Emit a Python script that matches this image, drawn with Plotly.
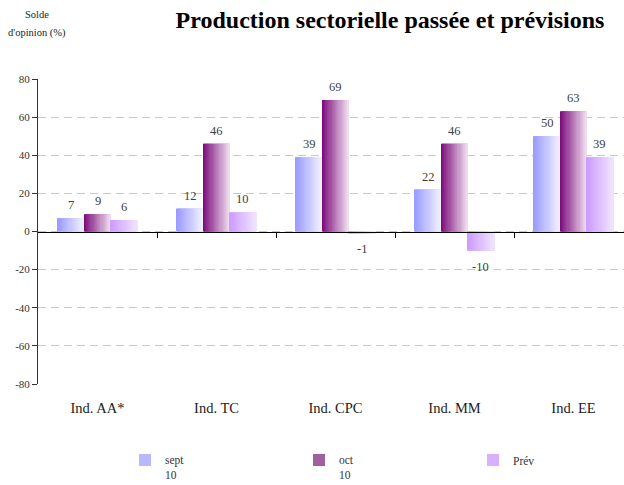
import plotly.graph_objects as go

categories = ["Ind. AA*", "Ind. TC", "Ind. CPC", "Ind. MM", "Ind. EE"]
series_names = ["sept<br>10", "oct<br>10", "Prév"]
sept_values = [7, 12, 39, 22, 50]
oct_values = [9, 46, 69, 46, 63]
prev_values = [6, 10, -1, -10, 39]
y_ticks = [-80, -60, -40, -20, 0, 20, 40, 60, 80]
y_tick_labels = ["-80", "-60", "-40", "-20", "0", "20", "40", "60", "80"]

series = [sept_values, oct_values, prev_values]
grads = [((0x99, 0x99, 0xff), (0xf2, 0xf2, 0xff)),
         ((0x7a, 0x08, 0x7a), (0xf0, 0xe0, 0xf0)),
         ((0xcc, 0x99, 0xff), (0xf0, 0xe4, 0xff))]
legend_cols = ["#b8b8ff", "#a060a0", "#d8b0ff"]

FONT = "Liberation Serif"
W = 1 / 4.5
K = 24
starts = [-1.5 * W, -0.5 * W, 0.5 * W]

PL, PR, PT, PB = 38, 624, 79, 384
def px_x(px):
    return (px - PL) / (PR - PL)
def px_y(py):
    return (PB - py) / (PB - PT)

fig = go.Figure()

def mix(c1, c2, t):
    return "rgb(%d,%d,%d)" % tuple(round(a + (b - a) * t) for a, b in zip(c1, c2))

for s, (vals, name) in enumerate(zip(series, series_names)):
    fig.add_trace(go.Bar(x=categories, y=vals, name=name, width=W, offset=starts[s],
                         marker=dict(color=legend_cols[s], line=dict(width=0)),
                         hoverinfo="skip"))
    sw = W / K
    for i in range(K):
        c = mix(grads[s][0], grads[s][1], (i + 0.5) / K)
        fig.add_trace(go.Bar(x=categories, y=vals, width=sw * (1.8 if i < K - 1 else 1.0),
                             offset=starts[s] + i * sw, showlegend=False,
                             marker=dict(color=c, line=dict(width=0)), hoverinfo="skip"))

annotations = []
bar_px = 26.4
for s, vals in enumerate(series):
    for cat, v in zip(categories, vals):
        annotations.append(dict(x=cat, y=v, xref="x", yref="y", text=str(v), showarrow=False,
                                xshift=(s - 1) * bar_px, yshift=13 if v >= 0 else -16,
                                yanchor="middle", font=dict(family=FONT, size=12.5, color="#404040")))

annotations.append(dict(text="Solde", x=px_x(37), y=px_y(14), xref="paper", yref="paper",
                        showarrow=False, xanchor="center", yanchor="middle",
                        font=dict(family=FONT, size=10.5, color="#222222")))
annotations.append(dict(text="d'opinion (%)", x=px_x(37), y=px_y(33), xref="paper", yref="paper",
                        showarrow=False, xanchor="center", yanchor="middle",
                        font=dict(family=FONT, size=10.5, color="#222222")))

x_max = -0.5 + (624 - 38) / 119.0

fig.update_layout(
    width=624, height=485,
    margin=dict(l=PL, r=624 - PR, t=PT, b=485 - PB, autoexpand=False),
    paper_bgcolor="white", plot_bgcolor="white",
    barmode="overlay",
    title=dict(text="<b>Production sectorielle passée et prévisions</b>",
               x=390 / 624, xanchor="center", xref="container",
               y=1 - 20 / 485, yanchor="middle", yref="container",
               font=dict(family=FONT, size=24, color="#000000")),
    font=dict(family=FONT, color="#333333"),
    annotations=annotations,
    showlegend=True,
    legend=dict(orientation="h", x=px_x(125), xanchor="left", y=px_y(446), yanchor="top",
                entrywidth=129, entrywidthmode="pixels", valign="top",
                font=dict(family=FONT, size=11.5, color="#333333"),
                itemclick=False, traceorder="normal"),
    xaxis=dict(type="category", range=[-0.5, x_max], tickmode="array", tickvals=categories,
               ticktext=categories, showgrid=False, showline=False,
               zeroline=False, ticks="outside", ticklen=11, tickcolor="rgba(0,0,0,0)",
               tickfont=dict(family=FONT, size=14.5, color="#222222")),
    xaxis2=dict(type="linear", overlaying="x", anchor="free", position=0.5,
                range=[-0.5, x_max], tickvals=[0.5, 1.5, 2.5, 3.5], ticks="outside",
                ticklen=5, tickcolor="#000000", showline=True, linecolor="#000000",
                linewidth=1, showticklabels=False, showgrid=False, zeroline=False),
    yaxis=dict(range=[-80, 80], tickmode="array", tickvals=y_ticks, ticktext=y_tick_labels,
               showgrid=True, gridcolor="#c8c8c8",
               griddash="8px,5px", gridwidth=1, zeroline=False, showline=True,
               linecolor="#333333", linewidth=1, ticks="outside", ticklen=5,
               tickcolor="#333333", tickfont=dict(family=FONT, size=11, color="#333333")),
)

fig.add_trace(go.Scatter(x=[0], y=[0], xaxis="x2", mode="markers",
                         marker=dict(opacity=0), showlegend=False, hoverinfo="skip"))

fig.write_html("out.html", config={"displayModeBar": False},
               post_script="document.body.style.margin='0';")
